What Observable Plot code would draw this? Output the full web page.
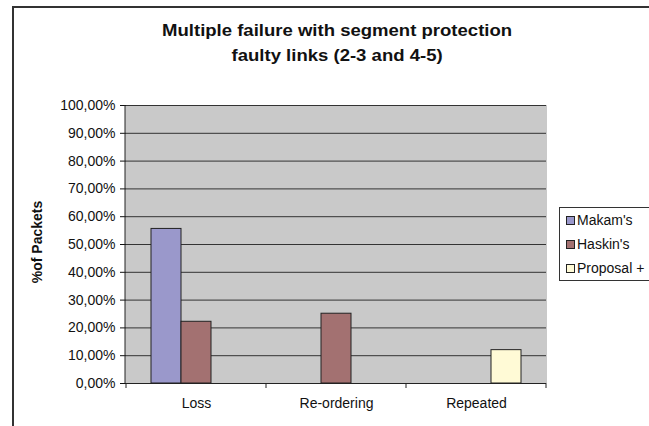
<!DOCTYPE html>
<html>
<head>
<meta charset="utf-8">
<script src="https://cdn.jsdelivr.net/npm/d3@7"></script>
<script src="https://cdn.jsdelivr.net/npm/@observablehq/plot@0.6"></script>
<style>
  html, body { margin: 0; padding: 0; background: #fff; }
  #wrap { position: relative; width: 649px; height: 426px; overflow: hidden; font-family: "Liberation Sans", Arial, sans-serif; }
  #border { position: absolute; left: 12px; top: 6px; width: 700px; height: 500px; border-left: 2px solid #333; border-top: 2px solid #333; box-sizing: border-box; }
  #title { position: absolute; left: 12px; width: 650px; top: 18px; text-align: center; font-weight: bold; font-size: 17px; line-height: 25px; color: #111; transform: scaleX(1.09); transform-origin: 324px 0; }
  #ylabel { position: absolute; left: 37px; top: 242px; transform: translate(-50%, -50%) rotate(-90deg); font-weight: bold; font-size: 14px; white-space: nowrap; color: #111; }
  #legend { position: absolute; left: 559px; top: 207px; width: 120px; height: 74px; border: 1px solid #333; box-sizing: border-box; background: #fff; }
  .item { position: absolute; left: 6px; font-size: 14px; white-space: nowrap; color: #111; display: flex; align-items: center; }
  .sw { width: 7px; height: 7px; border: 1px solid #222; margin-right: 2px; }
  #chart { position: absolute; left: 0; top: 0; }
</style>
</head>
<body>
<div id="wrap">
  <div id="border"></div>
  <div id="chart"></div>
  <div id="title">Multiple failure with segment protection<br>faulty links (2-3 and 4-5)</div>
  <div id="ylabel">%of Packets</div>
  <div id="legend"></div>
</div>
<script>
const categories = ["Loss", "Re-ordering", "Repeated"];
const series = ["Makam's", "Haskin's", "Proposal +"];
const makam = [55.6, 0, 0];
const haskin = [22.2, 25.1, 0];
const proposal = [0, 0, 12.0];
const colors = ["#9a98cb", "#a37171", "#fffad6"];
const yTicks = [0, 10, 20, 30, 40, 50, 60, 70, 80, 90, 100];

const values = [makam, haskin, proposal];
const rows = [];
series.forEach((s, si) => categories.forEach((c, ci) => {
  rows.push({category: c, series: s, value: values[si][ci]});
}));
const bars = rows.filter(d => d.value > 0);

const plot = Plot.plot({
  width: 649,
  height: 426,
  marginLeft: 125,
  marginRight: 102,
  marginTop: 105,
  marginBottom: 43,
  style: {fontFamily: "'Liberation Sans', Arial, sans-serif", fontSize: "14px", color: "#111", background: "transparent"},
  fx: {domain: categories, padding: 0, axis: "bottom", tickSize: 0, tickPadding: 15, label: null},
  x: {domain: series, paddingInner: 0, paddingOuter: 0.77, axis: null},
  y: {domain: [0, 100], ticks: yTicks, tickSize: 6, tickPadding: 5, label: null,
      tickFormat: d => d.toFixed(2).replace(".", ",") + "%"},
  color: {domain: series, range: colors},
  marks: [
    Plot.ruleY(yTicks.filter(t => t > 0), {stroke: "#333", strokeWidth: 1}),
    Plot.barY(bars, {fx: "category", x: "series", y: "value", fill: "series", stroke: "#222", strokeWidth: 1}),
    Plot.ruleY([0], {stroke: "#222", strokeWidth: 1})
  ]
});
document.getElementById("chart").appendChild(plot);

const fx = plot.scale("fx");
const ys = plot.scale("y");
const y0 = ys.apply(0);
const svg = d3.select(plot);

// single plot-area background spanning all category bands
const x0 = d3.min(fx.range), x1 = d3.max(fx.range);
const yMin = d3.min(ys.range), yMax = d3.max(ys.range);
svg.insert("rect", ":first-child")
  .attr("x", x0).attr("width", x1 - x0)
  .attr("y", yMin).attr("height", yMax - yMin)
  .attr("fill", "#c9c9c9");

const g = svg.append("g").attr("stroke", "#222");
// vertical value-axis line
g.append("line").attr("x1", x0).attr("x2", x0).attr("y1", yMin).attr("y2", yMax);
// category boundary ticks on the x axis (Excel style)
const bounds = categories.map(c => fx.apply(c));
bounds.push(fx.apply(categories[categories.length - 1]) + fx.step);
bounds.forEach(b => g.append("line").attr("x1", b).attr("x2", b).attr("y1", y0).attr("y2", y0 + 5));

// legend
const legend = document.getElementById("legend");
series.forEach((s, i) => {
  const it = document.createElement("div");
  it.className = "item";
  it.style.top = (4 + i * 24) + "px";
  const sw = document.createElement("div");
  sw.className = "sw";
  sw.style.background = colors[i];
  it.appendChild(sw);
  it.appendChild(document.createTextNode(s));
  legend.appendChild(it);
});
</script>
</body>
</html>
